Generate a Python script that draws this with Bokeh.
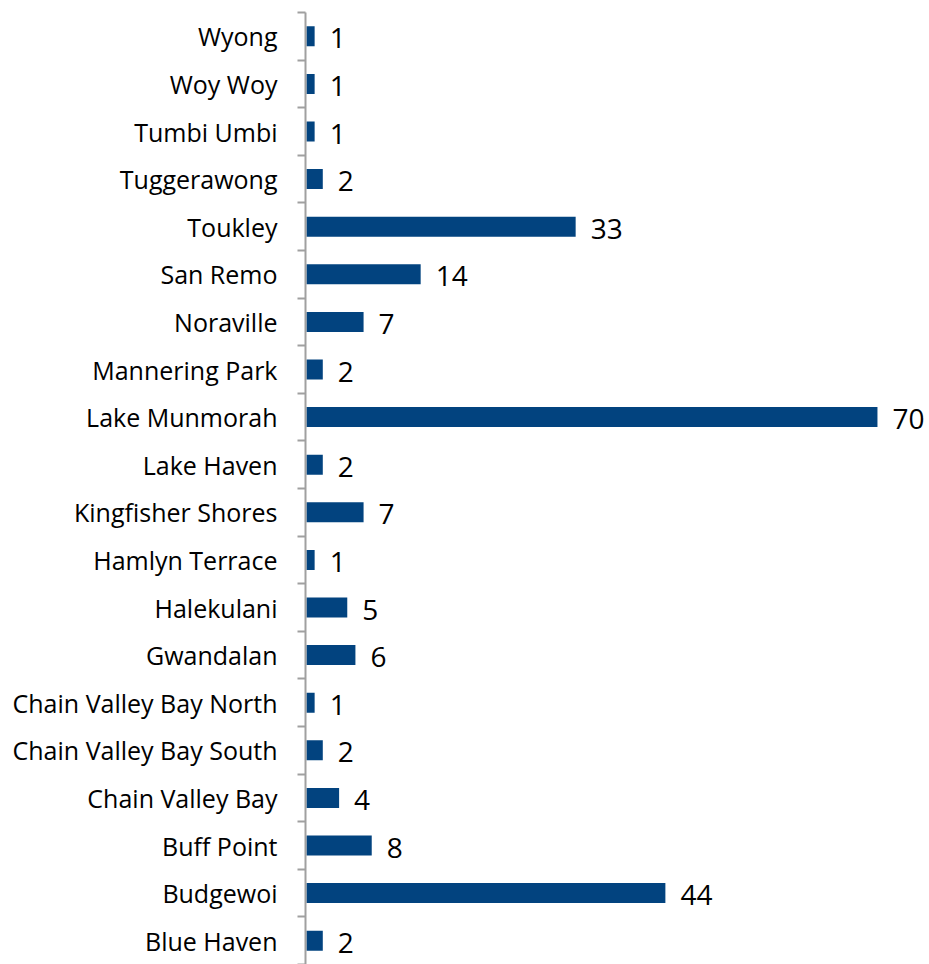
from bokeh.plotting import figure
from bokeh.models import Range1d, FixedTicker, ColumnDataSource, LabelSet
from bokeh.core.properties import value
from bokeh.embed import file_html
from bokeh.resources import INLINE

categories = ["Blue Haven", "Budgewoi", "Buff Point", "Chain Valley Bay",
              "Chain Valley Bay South", "Chain Valley Bay North", "Gwandalan",
              "Halekulani", "Hamlyn Terrace", "Kingfisher Shores", "Lake Haven",
              "Lake Munmorah", "Mannering Park", "Noraville", "San Remo", "Toukley",
              "Tuggerawong", "Tumbi Umbi", "Woy Woy", "Wyong"]
values = [2, 44, 8, 4, 2, 1, 6, 5, 1, 7, 2, 70, 2, 7, 14, 33, 2, 1, 1, 1]

ypos = [i + 0.5 for i in range(len(categories))]
source = ColumnDataSource(dict(y=ypos, v=values, cat=categories,
                               lab=[str(v) for v in values]))

p = figure(width=929, height=964, output_backend="svg", toolbar_location=None,
           x_range=Range1d(-0.12, 76.38), y_range=Range1d(0, 20),
           min_border_left=305, min_border_right=0, min_border_top=12,
           min_border_bottom=0)
p.outline_line_color = None
p.xgrid.visible = False
p.ygrid.visible = False
p.xaxis.visible = False

p.hbar(y="y", left=0, right="v", height=0.42, source=source,
       fill_color="#02437F", line_color=None)

ax = p.yaxis[0]
ax.ticker = FixedTicker(ticks=ypos, minor_ticks=list(range(len(categories) + 1)))
ax.major_label_overrides = {y: c for y, c in zip(ypos, categories)}
ax.major_tick_line_color = None
ax.major_tick_out = 8
ax.major_tick_in = 0
ax.minor_tick_out = 8
ax.minor_tick_in = 0
ax.minor_tick_line_color = "#A0A0A0"
ax.minor_tick_line_width = 2
ax.axis_line_color = "#A0A0A0"
ax.axis_line_width = 2
ax.major_label_standoff = 20
ax.major_label_text_font = "Open Sans"
ax.major_label_text_font_size = "25px"
ax.major_label_text_color = "#000000"

labels = LabelSet(x="v", y="y", text="lab", source=source, x_offset=15, y_offset=-2,
                  text_baseline="middle", text_font=value("Open Sans"),
                  text_font_size="28px", text_color="#000000")
p.add_layout(labels)

open("out.html", "w").write(file_html(p, INLINE))
